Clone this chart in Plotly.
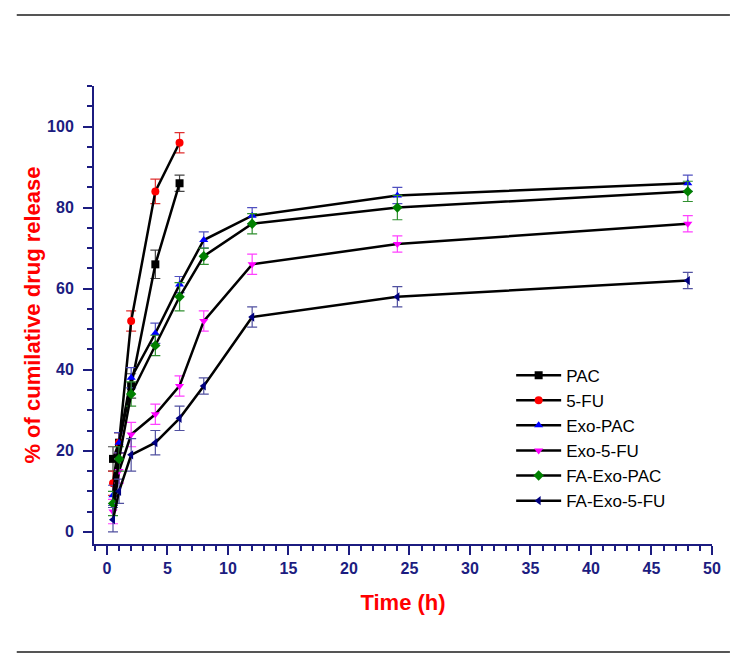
import plotly.graph_objects as go

time_h = [0.5, 1, 2, 4, 6, 8, 12, 24, 48]
time_short = [0.5, 1, 2, 4, 6]

pac = [18, 22, 36, 66, 86]
pac_err = [3, 2.5, 3, 3.5, 2]
fu = [12, 22, 52, 84, 96]
fu_err = [3, 2.5, 2.5, 3, 2.5]
exo_pac = [9, 22, 38, 49, 61, 72, 78, 83, 86]
exo_pac_err = [2.5, 2.5, 2.5, 2.5, 2, 2, 2, 2, 2]
exo_fu = [5, 15, 24, 29, 36, 52, 66, 71, 76]
exo_fu_err = [3, 3, 3, 2.5, 2.5, 2.5, 2.5, 2, 2]
fa_exo_pac = [7, 18, 34, 46, 58, 68, 76, 80, 84]
fa_exo_pac_err = [3, 3, 3, 2.5, 3.5, 2, 2.5, 3, 2.5]
fa_exo_fu = [3, 10, 19, 22, 28, 36, 53, 58, 62]
fa_exo_fu_err = [3, 3, 4, 3, 3, 2, 2.5, 2.5, 2]

navy = '#1c1c80'
font = 'Liberation Sans, Arial, sans-serif'


def add_series(fig, x, y, err, name, symbol, color, bar_color):
    fig.add_trace(go.Scatter(x=x, y=y, mode='lines+markers', name=name,
                             line=dict(color='black', width=2.5),
                             marker=dict(symbol=symbol, color=color, size=8),
                             error_y=dict(type='data', array=err, visible=True,
                                          color=bar_color, thickness=1.2, width=5)))


fig = go.Figure()
add_series(fig, time_short, pac, pac_err, 'PAC', 'square', 'black', '#444444')
add_series(fig, time_short, fu, fu_err, '5-FU', 'circle', 'red', '#e03030')
add_series(fig, time_h, exo_pac, exo_pac_err, 'Exo-PAC', 'triangle-up', 'blue', '#5050c0')
add_series(fig, time_h, exo_fu, exo_fu_err, 'Exo-5-FU', 'triangle-down', 'magenta', '#ff40ff')
add_series(fig, time_h, fa_exo_pac, fa_exo_pac_err, 'FA-Exo-PAC', 'diamond', 'green', '#309030')
add_series(fig, time_h, fa_exo_fu, fa_exo_fu_err, 'FA-Exo-5-FU', 'triangle-left', 'navy', '#5050a0')

axis_style = dict(showline=True, linecolor=navy, linewidth=2, ticks='outside', ticklen=9,
                  tickwidth=2, tickcolor=navy, showgrid=False, zeroline=False,
                  tickfont=dict(family=font, size=16, color=navy, weight='bold'),
                  minor=dict(ticks='outside', ticklen=5, tickwidth=2, tickcolor=navy))

fig.update_xaxes(range=[-1.07, 50], tick0=0, dtick=5,
                 title=dict(text='Time (h)', standoff=18,
                            font=dict(family=font, size=22, color='red', weight='bold')),
                 **axis_style)
fig.update_yaxes(range=[-3, 110], tick0=0, dtick=20, ticklabelstandoff=6,
                 title=dict(text='% of cumilative drug release', standoff=0,
                            font=dict(family=font, size=22, color='red', weight='bold')),
                 **axis_style)

# rules above and below the figure
fig.add_shape(type='line', xref='paper', yref='paper', x0=-0.125, x1=1.029, y0=1.155, y1=1.155,
              line=dict(color='#555555', width=2))
fig.add_shape(type='line', xref='paper', yref='paper', x0=-0.125, x1=1.029, y0=-0.236, y1=-0.236,
              line=dict(color='#555555', width=2))

fig.update_layout(width=743, height=660, plot_bgcolor='white', paper_bgcolor='white',
                  margin=dict(l=86, r=39, t=78, b=124),
                  legend=dict(x=0.675, y=0.407, xanchor='left', yanchor='top',
                              bgcolor='rgba(0,0,0,0)', itemwidth=45,
                              font=dict(family=font, size=17, color='black')))

fig.write_html("out.html")
